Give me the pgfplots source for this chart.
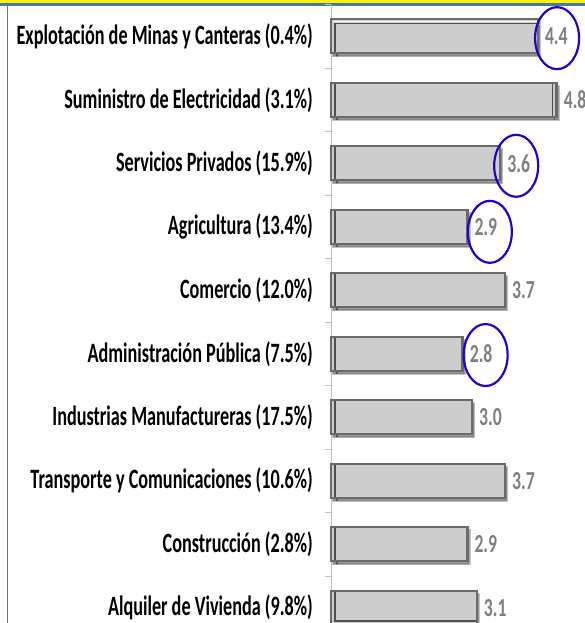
\documentclass[border=0pt]{standalone}
\usepackage{fontspec}
\usepackage{pgfplots}
\usepackage{pgfplotstable}
\pgfplotsset{compat=1.18}
\usetikzlibrary{shadows}
\newfontfamily\labfont[FakeStretch=0.65]{Carlito}
\newfontfamily\valfont[FakeStretch=0.68]{Carlito}
\definecolor{barfill}{HTML}{CDCDCD}
\definecolor{barborder}{HTML}{6A6A6A}
\definecolor{barinner}{HTML}{4F4F4F}
\definecolor{valgray}{HTML}{7F7F7F}
\definecolor{circblue}{HTML}{2A00C8}
\definecolor{axgray}{HTML}{BFBFBF}
\definecolor{topblue}{HTML}{4A74B8}
\definecolor{leftgray}{HTML}{707070}

\pgfplotstableread{
y v
1 4.4
2 4.8
3 3.6
4 2.9
5 3.7
6 2.8
7 3.0
8 3.7
9 2.9
10 3.1
}\datatable

\newcommand\barbevel{%
  \pgfsetlinewidth{1.2bp}\pgfsetstrokecolor{white}\pgfsetstrokeopacity{0.9}%
  \pgfpathmoveto{\pgfpointadd{\pgfpointanchor{path picture bounding box}{north west}}{\pgfpoint{2.2bp}{-2.4bp}}}%
  \pgfpathlineto{\pgfpointadd{\pgfpointanchor{path picture bounding box}{north east}}{\pgfpoint{-2.2bp}{-2.4bp}}}%
  \pgfusepath{stroke}%
  \pgfsetstrokeopacity{1}%
  \pgfsetlinewidth{1.5bp}\pgfsetstrokecolor{barinner}%
  \pgfpathrectanglecorners
    {\pgfpointadd{\pgfpointanchor{path picture bounding box}{north west}}{\pgfpoint{4bp}{-4.2bp}}}%
    {\pgfpointadd{\pgfpointanchor{path picture bounding box}{south east}}{\pgfpoint{-4bp}{3.6bp}}}%
  \pgfusepath{stroke}%
}

\begin{document}
\begin{tikzpicture}
\useasboundingbox (0,0) rectangle (585bp,-623bp);
\clip (0,0) rectangle (585bp,-623bp);
\fill[yellow] (0,0) rectangle (585bp,-3.3bp);
\fill[topblue] (0,-3.3bp) rectangle (585bp,-6bp);
\draw[leftgray, line width=1.2bp] (7.5bp,-6bp) -- (7.5bp,-623bp);
\begin{axis}[
  at={(331bp,-4.5bp)}, anchor=north west,
  scale only axis, width=254bp, height=635bp,
  xmin=0, xmax=5.404, ymin=0.5, ymax=10.5, y dir=reverse,
  axis x line=none, axis y line=left,
  y axis line style={-, draw=axgray, line width=0.8bp},
  ytick={1,...,10},
  yticklabels={
    {Explotación de Minas y Canteras (0.4\%)},
    {Suministro de Electricidad (3.1\%)},
    {Servicios Privados (15.9\%)},
    {Agricultura (13.4\%)},
    {Comercio (12.0\%)},
    {Administración Pública (7.5\%)},
    {Industrias Manufactureras (17.5\%)},
    {Transporte y Comunicaciones (10.6\%)},
    {Construcción (2.8\%)},
    {Alquiler de Vivienda (9.8\%)}},
  minor ytick={0.5,1.5,...,10.5},
  major tick length=0pt, minor tick length=6bp, tick align=outside,
  minor tick style={draw=axgray, line width=0.8bp},
  yticklabel style={font=\labfont\bfseries\fontsize{28bp}{30bp}\selectfont, anchor=east, inner sep=0pt, xshift=-18bp},
  clip=false,
  /pgf/number format/assume math mode=true,
]
\addplot[xbar, bar width=34bp, bar shift=0pt, fill=barfill, draw=barborder, line width=2.4bp,
  drop shadow={shadow xshift=2bp, shadow yshift=-3bp, opacity=0.4, fill=black},
  path picture={\barbevel}] table[x=v,y=y]{\datatable};
\addplot[draw=none, mark=none, point meta=x,
  nodes near coords={\pgfmathprintnumber[fixed,fixed zerofill,precision=1]{\pgfplotspointmeta}},
  every node near coord/.append style={anchor=west, inner sep=0pt, xshift=7bp,
    font=\valfont\bfseries\fontsize{26bp}{28bp}\selectfont, text=valgray}]
  table[x=v,y=y]{\datatable};
\addplot[only marks, mark=o, mark size=31bp,
  mark options={xscale=0.71, draw=circblue, line width=2.2bp}]
  coordinates {(4.81,1.03) (3.94,3.04) (3.38,4.08) (3.29,6.02)};
\end{axis}
\end{tikzpicture}
\end{document}
